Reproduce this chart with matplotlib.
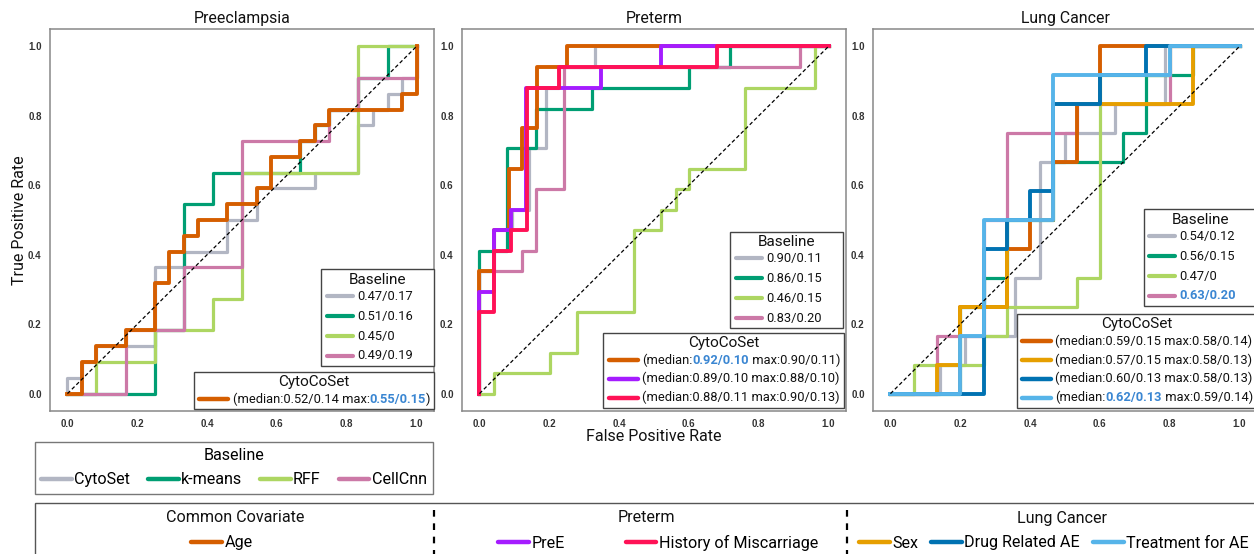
import numpy as np
import matplotlib
matplotlib.use('Agg')
import matplotlib.pyplot as plt
from matplotlib.offsetbox import AnchoredOffsetbox, VPacker, HPacker, TextArea, DrawingArea
from matplotlib.lines import Line2D
from matplotlib.patches import Rectangle

FONT = 'Roboto'
plt.rcParams['font.family'] = [FONT, 'DejaVu Sans']

# ------------------------------------------------------------------ data
panel_titles = ['Preeclampsia', 'Preterm', 'Lung Cancer']
tick_vals = [0.0, 0.2, 0.4, 0.6, 0.8, 1.0]
tick_labels = ['0.0', '0.2', '0.4', '0.6', '0.8', '1.0']
baseline_names = ['CytoSet', 'k-means', 'RFF', 'CellCnn']
baseline_colors = ['#B2B6C3', '#009E73', '#ADD662', '#CC79A7']

# --- Preeclampsia (FPR / TPR step vertices) ---
pe_cytoset_fpr = [0, 0, .042, .083, .25, .333, .458, .542, .708, .833, .875, .917, .958, 1]
pe_cytoset_tpr = [0, .045, .091, .136, .364, .409, .5, .591, .636, .773, .818, .864, .909, 1]
pe_kmeans_fpr = [0, .25, .333, .417, .667, .708, .75, .833, .917, 1]
pe_kmeans_tpr = [0, .182, .545, .636, .727, .773, .818, .909, 1, 1]
pe_rff_fpr = [0, .083, .25, .417, .5, .833, 1]
pe_rff_tpr = [0, .091, .182, .273, .636, 1, 1]
pe_cellcnn_fpr = [0, .167, .333, .5, .75, .833, 1]
pe_cellcnn_tpr = [0, .182, .364, .727, .818, .909, 1]
pe_age_fpr = [0, .042, .083, .167, .25, .292, .333, .375, .458, .542, .583, .667, .708, .75, .958, 1]
pe_age_tpr = [0, .091, .136, .182, .318, .409, .455, .5, .545, .591, .682, .727, .773, .818, .864, 1]
pe_baseline_labels = ['0.47/0.17', '0.51/0.16', '0.45/0', '0.49/0.19']

# --- Preterm ---
pt_cytoset_fpr = [0, 0, .041, .093, .141, .192, .227, .332, 1]
pt_cytoset_tpr = [0, .353, .47, .53, .706, .88, .94, 1, 1]
pt_kmeans_fpr = [0, 0, .079, .161, .322, .599, .718, 1]
pt_kmeans_tpr = [0, .41, .706, .82, .88, .94, 1, 1]
pt_rff_fpr = [0, .041, .201, .28, .442, .52, .564, .6, .761, .962, 1]
pt_rff_tpr = [0, .059, .118, .235, .47, .53, .59, .647, .88, 1, 1]
pt_cellcnn_fpr = [0, 0, .122, .161, .241, .919, 1]
pt_cellcnn_tpr = [0, .353, .41, .59, .94, 1, 1]
pt_age_fpr = [0, 0, .041, .084, .122, .165, .251, 1]
pt_age_tpr = [0, .353, .47, .647, .765, .94, 1, 1]
pt_pree_fpr = [0, 0, .041, .089, .132, .349, .52, 1]
pt_pree_tpr = [0, .294, .47, .53, .88, .94, 1, 1]
pt_misc_fpr = [0, 0, .041, .089, .136, .227, .68, 1]
pt_misc_tpr = [0, .235, .41, .47, .88, .94, 1, 1]
pt_baseline_labels = ['0.90/0.11', '0.86/0.15', '0.46/0.15', '0.83/0.20']

# --- Lung Cancer ---
lc_cytoset_fpr = [0, .143, .214, .357, .429, .5, .643, .786, 1]
lc_cytoset_tpr = [0, .083, .167, .333, .667, .75, .833, 1, 1]
lc_kmeans_fpr = [0, .2, .267, .333, .467, .667, .733, .867, 1]
lc_kmeans_tpr = [0, .25, .333, .5, .667, .75, .917, 1, 1]
lc_rff_fpr = [0, .067, .267, .333, .533, .6, .8, 1]
lc_rff_tpr = [0, .083, .167, .25, .333, .917, 1, 1]
lc_cellcnn_fpr = [0, .133, .267, .333, .533, .8, 1]
lc_cellcnn_tpr = [0, .167, .5, .75, .833, 1, 1]
lc_age_fpr = [0, .2, .333, .4, .467, .533, .6, 1]
lc_age_tpr = [0, .25, .417, .5, .667, .833, 1, 1]
lc_sex_fpr = [0, .133, .2, .333, .467, .867, 1]
lc_sex_tpr = [0, .083, .25, .5, .833, 1, 1]
lc_drug_fpr = [0, .267, .333, .4, .467, .6, .733, 1]
lc_drug_tpr = [0, .417, .5, .583, .833, .917, 1, 1]
lc_treat_fpr = [0, .2, .267, .467, .8, 1]
lc_treat_tpr = [0, .167, .5, .917, 1, 1]
lc_baseline_labels = ['0.54/0.12', '0.56/0.15', '0.47/0', '0.63/0.20']

covariate_names = ['Age', 'PreE', 'History of Miscarriage', 'Sex', 'Drug Related AE', 'Treatment for AE']
covariate_colors = ['#D55E00', '#A51CFF', '#FF1256', '#E69F00', '#0072B2', '#56B4E9']
group_titles = ['Common Covariate', 'Preterm', 'Lung Cancer']
group_members = [[0], [1, 2], [3, 4, 5]]

HL = '#3A86D2'   # highlight colour in legends
BLK = '#111111'

# CytoCoSet legend texts: list of (text, highlighted?) chunks
pe_coset_texts = [[('(median:0.52/0.14 max:', 0), ('0.55/0.15', 1), (')', 0)]]
pt_coset_texts = [[('(median:', 0), ('0.92/0.10', 1), (' max:0.90/0.11)', 0)],
                  [('(median:0.89/0.10 max:0.88/0.10)', 0)],
                  [('(median:0.88/0.11 max:0.90/0.13)', 0)]]
lc_coset_texts = [[('(median:0.59/0.15 max:0.58/0.14)', 0)],
                  [('(median:0.57/0.15 max:0.58/0.13)', 0)],
                  [('(median:0.60/0.13 max:0.58/0.13)', 0)],
                  [('(median:', 0), ('0.62/0.13', 1), (' max:0.59/0.14)', 0)]]
lc_baseline_highlight = [0, 0, 0, 1]

# ------------------------------------------------------------------ figure
W, H = 1254, 554
fig = plt.figure(figsize=(W / 100, H / 100), dpi=100)


def fx(px):
    return px / W


def fy(py):
    return 1 - py / H


panels = [
    dict(base=[(pe_cytoset_fpr, pe_cytoset_tpr), (pe_kmeans_fpr, pe_kmeans_tpr),
               (pe_rff_fpr, pe_rff_tpr), (pe_cellcnn_fpr, pe_cellcnn_tpr)],
         cov=[(pe_age_fpr, pe_age_tpr, 0)], blabels=pe_baseline_labels,
         bhl=[0, 0, 0, 0], ctexts=pe_coset_texts, banchor=(1.0, 0.118), canchor=(1.0, 0.005)),
    dict(base=[(pt_cytoset_fpr, pt_cytoset_tpr), (pt_kmeans_fpr, pt_kmeans_tpr),
               (pt_rff_fpr, pt_rff_tpr), (pt_cellcnn_fpr, pt_cellcnn_tpr)],
         cov=[(pt_age_fpr, pt_age_tpr, 0), (pt_pree_fpr, pt_pree_tpr, 1), (pt_misc_fpr, pt_misc_tpr, 2)],
         blabels=pt_baseline_labels, bhl=[0, 0, 0, 0], ctexts=pt_coset_texts,
         banchor=(0.993, 0.217), canchor=(0.995, 0.008)),
    dict(base=[(lc_cytoset_fpr, lc_cytoset_tpr), (lc_kmeans_fpr, lc_kmeans_tpr),
               (lc_rff_fpr, lc_rff_tpr), (lc_cellcnn_fpr, lc_cellcnn_tpr)],
         cov=[(lc_age_fpr, lc_age_tpr, 0), (lc_sex_fpr, lc_sex_tpr, 3), (lc_drug_fpr, lc_drug_tpr, 4),
              (lc_treat_fpr, lc_treat_tpr, 5)],
         blabels=lc_baseline_labels, bhl=lc_baseline_highlight, ctexts=lc_coset_texts,
         banchor=(1.0, 0.275), canchor=(1.0, 0.008)),
]

ax_lefts = [50, 462, 873]
ax_w = 384
ax_top, ax_bot = 29, 411


def box_legend(ax, title, rows, anchor, title_fs, fs, handle_len=22, row_sep=5.0, right_pad=0.0):
    row_boxes = []
    for color, lw, parts in rows:
        da = DrawingArea(handle_len, fs * 0.7, 0, 0)
        da.add_artist(Line2D([1.5, handle_len - 1.5], [fs * 0.35] * 2, color=color, lw=lw,
                             solid_capstyle='round'))
        tas = [TextArea(s, textprops=dict(color=(HL if h else BLK), fontsize=fs,
                                          fontweight=('bold' if h else 'normal'), fontfamily=FONT))
               for s, h in parts]
        tbox = HPacker(children=tas, pad=0, sep=0, align='baseline')
        kids = [da, tbox]
        if right_pad > 0:
            kids.append(DrawingArea(right_pad, 1, 0, 0))
        row_boxes.append(HPacker(children=kids, pad=0, sep=1.5, align='center'))
    rows_box = VPacker(children=row_boxes, pad=0, sep=row_sep, align='left')
    title_box = TextArea(title, textprops=dict(fontsize=title_fs, fontfamily=FONT, color=BLK))
    box = VPacker(children=[title_box, rows_box], pad=0, sep=2, align='center')
    ab = AnchoredOffsetbox(loc='lower right', child=box, pad=0.25, borderpad=0, frameon=True,
                           bbox_to_anchor=anchor, bbox_transform=ax.transAxes)
    ab.patch.set_boxstyle('square', pad=0)
    ab.patch.set_edgecolor('#444444')
    ab.patch.set_linewidth(1.0)
    ab.set_zorder(6)
    ax.add_artist(ab)


draw_order = [0, 1, 3, 2]  # CytoSet, k-means, CellCnn, RFF
for i, (left, p) in enumerate(zip(ax_lefts, panels)):
    ax = fig.add_axes([left / W, 1 - ax_bot / H, ax_w / W, (ax_bot - ax_top) / H])
    for j in draw_order:
        f, t = p['base'][j]
        ax.plot(f, t, drawstyle='steps-post', color=baseline_colors[j], lw=2.3, zorder=2 + j * 0.01)
    for k, (f, t, ci) in enumerate(p['cov']):
        ax.plot(f, t, drawstyle='steps-post', color=covariate_colors[ci], lw=2.8, zorder=3 + k * 0.01)
    ax.plot([0, 1], [0, 1], color='black', lw=0.9, ls=(0, (3, 2)), zorder=4)
    ax.set_xlim(-0.05, 1.05)
    ax.set_ylim(-0.05, 1.05)
    ax.set_xticks(tick_vals)
    ax.set_yticks(tick_vals)
    ax.set_xticklabels(tick_labels, fontweight='bold', fontfamily='Liberation Sans', fontsize=7, color='#333333')
    ax.set_yticklabels(tick_labels, fontweight='bold', fontfamily='Liberation Sans', fontsize=7, color='#333333')
    ax.tick_params(length=0, pad=6)
    for s in ax.spines.values():
        s.set_color('#888888')
        s.set_linewidth(1.1)
    ax.set_title(panel_titles[i], fontsize=11.4, pad=4, color=BLK)
    if i == 0:
        ax.set_ylabel('True Positive Rate', fontsize=11.5, labelpad=1, color=BLK)
    if i == 1:
        ax.set_xlabel('False Positive Rate', fontsize=11.5, labelpad=0, color=BLK)

    brows = []
    for j in range(4):
        brows.append((baseline_colors[j], 3.0, [(p['blabels'][j], p['bhl'][j])]))
    box_legend(ax, 'Baseline', brows, p['banchor'], title_fs=11, fs=9.3, handle_len=22,
               row_sep=5.0, right_pad=11)
    crows = []
    for (f, t, ci), parts in zip(p['cov'], p['ctexts']):
        crows.append((covariate_colors[ci], 3.2, parts))
    box_legend(ax, 'CytoCoSet', crows, p['canchor'], title_fs=11, fs=9.3, handle_len=24, row_sep=4.0)

# ------------------------------------------------------------------ bottom legends
BFS = 11.6
base_handles = [Line2D([], [], color=c, lw=3.2, solid_capstyle='round') for c in baseline_colors]
leg = fig.legend(base_handles, baseline_names, ncol=4, title='Baseline', loc='upper left',
                 bbox_to_anchor=(fx(35), fy(497), fx(433) - fx(35), fy(442) - fy(497)),
                 mode='expand', frameon=True, fontsize=BFS, title_fontsize=BFS,
                 handlelength=1.9, handletextpad=0.15, borderpad=0.4, labelspacing=0.55,
                 borderaxespad=0, fancybox=False, edgecolor='#555555', columnspacing=0.6)
leg.get_frame().set_linewidth(1.0)

# big bottom box (cut off at the figure edge)
fig.patches.append(Rectangle((fx(35), -0.2), 1.2, fy(503) + 0.2, transform=fig.transFigure,
                             fill=False, edgecolor='#555555', lw=1.0))
for xs in [434, 847]:
    fig.lines.append(Line2D([fx(xs), fx(xs)], [fy(510), 0], transform=fig.transFigure,
                            color='black', lw=1.6, ls=(0, (3, 3))))

cov_handles = [Line2D([], [], color=c, lw=3.2, solid_capstyle='round') for c in covariate_colors]
title_cx = [235, 646, 1062]
entry_cx = [222, 658, 1054]
col_space = [0.8, 3.8, 0.8]
for gtitle, idxs, tcx, ecx, cs in zip(group_titles, group_members, title_cx, entry_cx, col_space):
    fig.text(fx(tcx), fy(518), gtitle, ha='center', va='center', fontsize=BFS, color=BLK)
    fig.legend([cov_handles[k] for k in idxs], [covariate_names[k] for k in idxs],
               ncol=len(idxs), loc='center', bbox_to_anchor=(fx(ecx), fy(543)),
               frameon=False, fontsize=BFS, handlelength=1.9,
               handletextpad=0.15, borderpad=0.0, borderaxespad=0,
               columnspacing=cs)

fig.savefig('out.png', dpi=100)
